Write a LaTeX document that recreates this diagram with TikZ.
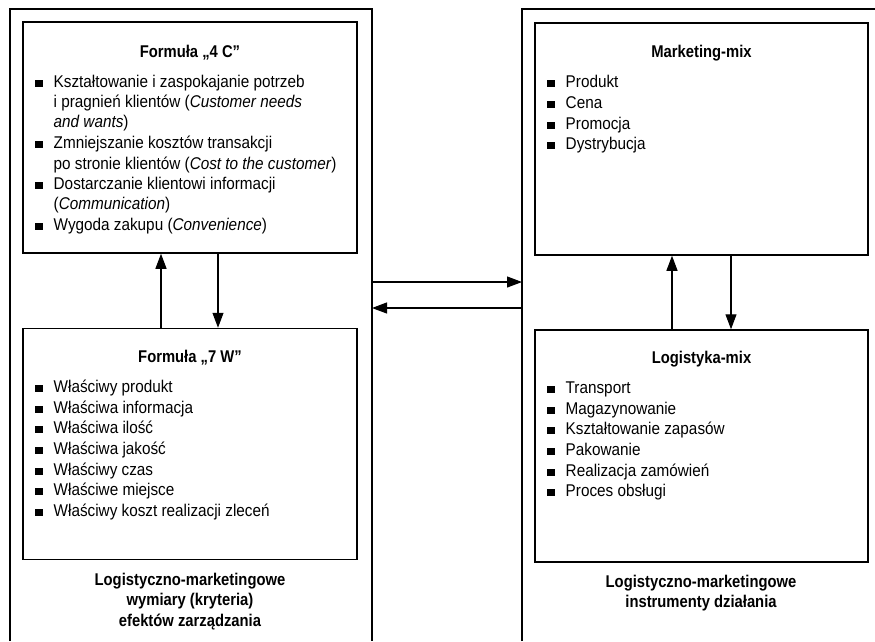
\documentclass[tikz,border=0pt]{standalone}
\usepackage{fontspec}
\setmainfont{Liberation Sans}[FakeStretch=0.9,BoldFeatures={FakeStretch=0.87}]
\usetikzlibrary{arrows.meta}
\def\sq{\makebox[18.5pt][l]{\rule[0.3pt]{7.5pt}{7pt}}}

\tikzset{
	box/.style={draw, line width=1.5pt, minimum width=334pt, minimum height=231pt, inner sep=0pt},
	frame/.style={line width=1.1pt},
	arr/.style={line width=1.1pt, -{Triangle[length=15pt,width=11pt]}},
	item/.style={anchor=base west, inner sep=0pt, font=\fontsize{17}{20}\selectfont},
	head/.style={anchor=base, inner sep=0pt, font=\fontsize{17}{20}\selectfont\bfseries},
	caption/.style={anchor=north, inner sep=0pt, align=center, font=\fontsize{17}{20.5}\selectfont\bfseries}
}

\begin{document}
\begin{tikzpicture}[x=1pt,y=-1pt]
		%%%%% START %%%%%
		\useasboundingbox (0,0) rectangle (875,641);
		
		% outer frames
		\coordinate (lframe) at (372,9);
		\coordinate (rframe) at (522,9);
		\draw[frame] (10,641) -- (10,9) -- (lframe) -- (372,641);
		\draw[frame] (522,641) -- (rframe) -- (875,9);
		
		% inner boxes
		\node[box] (c4) at (190,137.5) {};
		\node[box] (w7) at (190,444) {};
		\node[box, minimum width=333pt, minimum height=232pt] (mm) at (701.5,139) {};
		\node[box, minimum width=333pt, minimum height=232pt] (lm) at (701.5,446) {};
		
		% arrows
		\coordinate (lup) at (161,0);
		\coordinate (ldown) at (218,0);
		\coordinate (rup) at (672,0);
		\coordinate (rdown) at (731,0);
		\coordinate (hi) at (0,282);
		\coordinate (lo) at (0,308);
		\draw[arr] (w7.north -| lup) -- (c4.south -| lup);
		\draw[arr] (c4.south -| ldown) -- (w7.north -| ldown);
		\draw[arr] (lm.north -| rup) -- (mm.south -| rup);
		\draw[arr] (mm.south -| rdown) -- (lm.north -| rdown);
		\draw[arr] (lframe |- hi) -- (rframe |- hi);
		\draw[arr] (rframe |- lo) -- (lframe |- lo);
		
		% Formula 4 C
		\node[head] (c4t) at (190,57) {Formuła „4 C”};
		\node[item] (c4a) at (35,87) {\sq Kształtowanie i zaspokajanie potrzeb};
		\node[item] (c4b) at (53.5,107) {i pragnień klientów (\textit{Customer needs}};
		\node[item] (c4c) at (53.5,127) {\textit{and wants})};
		\node[item] (c4d) at (35,148) {\sq Zmniejszanie kosztów transakcji};
		\node[item] (c4e) at (53.5,169) {po stronie klientów (\textit{Cost to the customer})};
		\node[item] (c4f) at (35,189) {\sq Dostarczanie klientowi informacji};
		\node[item] (c4g) at (53.5,209) {(\textit{Communication})};
		\node[item] (c4h) at (35,230) {\sq Wygoda zakupu (\textit{Convenience})};
		
		% Formula 7 W
		\node[head] (w7t) at (190,362) {Formuła „7 W”};
		\node[item] (w7a) at (35,392) {\sq Właściwy produkt};
		\node[item] (w7b) at (35,413) {\sq Właściwa informacja};
		\node[item] (w7c) at (35,433) {\sq Właściwa ilość};
		\node[item] (w7d) at (35,454) {\sq Właściwa jakość};
		\node[item] (w7e) at (35,475) {\sq Właściwy czas};
		\node[item] (w7f) at (35,495) {\sq Właściwe miejsce};
		\node[item] (w7g) at (35,516) {\sq Właściwy koszt realizacji zleceń};
		
		% Marketing-mix
		\node[head] (mmt) at (701.5,57) {Marketing-mix};
		\node[item] (mma) at (547,87) {\sq Produkt};
		\node[item] (mmb) at (547,108) {\sq Cena};
		\node[item] (mmc) at (547,129) {\sq Promocja};
		\node[item] (mmd) at (547,149) {\sq Dystrybucja};
		
		% Logistyka-mix
		\node[head] (lmt) at (701.5,363) {Logistyka-mix};
		\node[item] (lma) at (547,393) {\sq Transport};
		\node[item] (lmb) at (547,414) {\sq Magazynowanie};
		\node[item] (lmc) at (547,434) {\sq Kształtowanie zapasów};
		\node[item] (lmd) at (547,455) {\sq Pakowanie};
		\node[item] (lme) at (547,476) {\sq Realizacja zamówień};
		\node[item] (lmf) at (547,496) {\sq Proces obsługi};
		
		% captions
		\node[caption] (capL) at (190,572.5) {Logistyczno-marketingowe\\wymiary (kryteria)\\efektów zarządzania};
		\node[caption] (capR) at (701,574.5) {Logistyczno-marketingowe\\instrumenty działania};
		
		%%%%% END %%%%%
\end{tikzpicture}
\end{document}
